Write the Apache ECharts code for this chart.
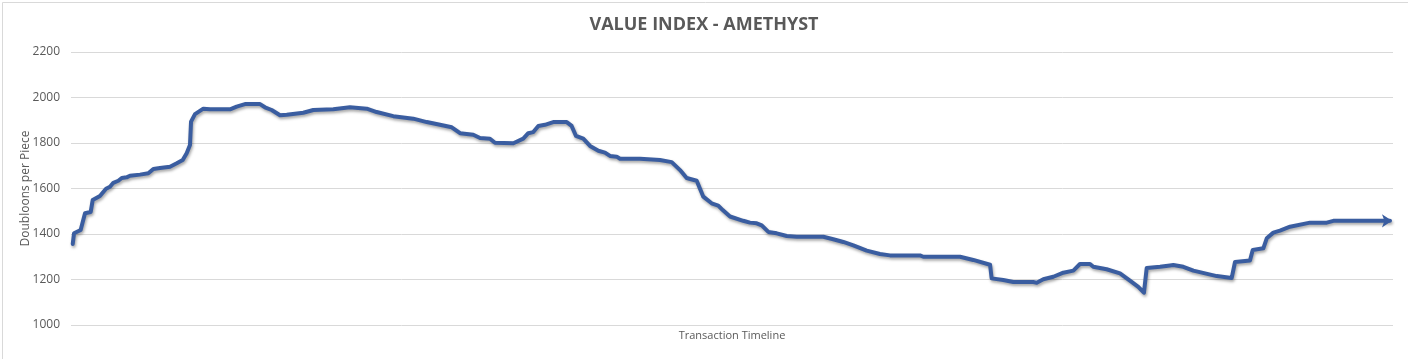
<!DOCTYPE html>
<html>
<head>
<meta charset="utf-8">
<script src="https://cdn.jsdelivr.net/npm/echarts@6/dist/echarts.min.js"></script>
<style>
html,body{margin:0;padding:0;background:#fff;}
#chart{width:1408px;height:359px;}
</style>
</head>
<body>
<div id="chart"></div>
<script>
// Transaction index (timeline position, 0..1000)
const transactionIndex = [1.3,2.3,7.3,10.6,14.9,16.4,21.9,26.5,29.5,32,35.8,38.4,42.1,44.6,52.2,58.5,62.3,67.3,74.9,80,84.5,87.5,90,90.8,93.8,100.1,105.1,120.3,125.3,131.6,143,146.7,151.8,158.1,163.2,164.4,175.7,183.3,198.4,211,223.7,231.2,243.8,258.9,269.1,279.1,288,294.3,304.3,309.4,316.9,320.7,334.6,342.1,345.9,349.7,353.5,358.5,364.8,375,378.7,382,387.5,392.6,398.9,403.9,407.7,412.8,415.3,430.4,445.5,454.4,460.7,465.7,473.3,478.3,484.6,489.6,493,498.5,508.5,513.6,518.7,522.5,527.5,533.8,541.4,549,569.1,576.6,584.2,591.8,601.9,611.9,619.5,642.2,644.7,664.9,672.5,682.5,695.2,696.4,705.2,712.8,727.9,730.5,735.5,743.1,750.6,758.2,763.2,770.8,773.3,783.4,793.5,801,807.3,811.6,813.7,823.8,831.3,833.8,841.4,849,866.7,878,880.5,891.8,893.9,901.9,904.5,909.5,914.5,922.1,937.2,949.9,954.9,997.7];
// Doubloons per piece
const pieceValue = [1356,1403,1418,1491,1497,1549,1567,1599,1608,1625,1634,1646,1649,1656,1661,1667,1686,1690,1696,1711,1725,1755,1791,1894,1927,1951,1948,1948,1960,1971,1971,1957,1945,1922,1924,1931,1933,1945,1948,1957,1951,1936,1918,1907,1892,1880,1869,1843,1836,1822,1819,1801,1799,1819,1843,1848,1875,1880,1892,1892,1875,1831,1819,1787,1766,1758,1743,1740,1731,1731,1725,1716,1681,1646,1634,1564,1535,1525,1505,1477,1458,1450,1447,1438,1409,1403,1391,1388,1388,1377,1365,1350,1327,1312,1306,1306,1300,1300,1300,1286,1265,1205,1198,1189,1189,1186,1201,1212,1230,1239,1268,1268,1256,1245,1227,1195,1168,1142,1251,1256,1262,1264,1256,1239,1215,1207,1277,1284,1330,1337,1381,1406,1415,1432,1450,1450,1458,1458];
const yTicks = [1000,1200,1400,1600,1800,2000,2200];

const seriesData = transactionIndex.map((t, i) => {
  const item = { value: [t, pieceValue[i]] };
  if (i === transactionIndex.length - 1) {
    item.symbol = 'arrow';
    item.symbolSize = [10, 10];
    item.symbolRotate = -90;
    item.symbolOffset = [2, 0];
    item.itemStyle = { color: '#3A5DA0' };
  }
  return item;
});

const chart = echarts.init(document.getElementById('chart'), null, { renderer: 'canvas' });
chart.setOption({
  animation: false,
  backgroundColor: '#fff',
  title: {
    text: 'VALUE INDEX - AMETHYST',
    left: 'center',
    top: 11,
    textStyle: { fontFamily: 'Open Sans', fontWeight: 'bold', fontSize: 18, color: '#595959' }
  },
  graphic: [{
    type: 'rect',
    left: 0, top: 0,
    shape: { width: 1406, height: 357 },
    style: { fill: 'none', stroke: '#d9d9d9', lineWidth: 1 },
    z: -1
  }],
  grid: { left: 71, right: 15, top: 52, bottom: 34 },
  xAxis: {
    type: 'value',
    min: 0, max: 1000,
    name: 'Transaction Timeline',
    nameLocation: 'middle',
    nameGap: 5,
    nameMoveOverlap: false,
    nameTextStyle: { fontFamily: 'Open Sans', fontSize: 11, color: '#595959' },
    axisLine: { show: false },
    axisTick: { show: false },
    axisLabel: { show: false },
    splitLine: { show: false }
  },
  yAxis: {
    type: 'value',
    min: yTicks[0], max: yTicks[yTicks.length - 1], interval: 200,
    name: 'Doubloons per Piece',
    nameLocation: 'middle',
    nameGap: 39,
    nameMoveOverlap: false,
    nameTextStyle: { fontFamily: 'Open Sans', fontSize: 12, color: '#595959' },
    axisLine: { show: false },
    axisTick: { show: false },
    axisLabel: { margin: 11, fontFamily: 'Open Sans', fontSize: 12, color: '#595959', formatter: v => String(v) },
    splitLine: { lineStyle: { color: '#d9d9d9', width: 1 } }
  },
  series: [{
    type: 'line',
    data: seriesData,
    showSymbol: true,
    symbol: 'none',
    lineStyle: {
      color: '#3A5DA0', width: 4, cap: 'round', join: 'round',
      shadowColor: 'rgba(0,0,0,0.35)', shadowBlur: 3, shadowOffsetX: 1, shadowOffsetY: 2
    },
    itemStyle: { color: '#3A5DA0' }
  }]
});
</script>
</body>
</html>
